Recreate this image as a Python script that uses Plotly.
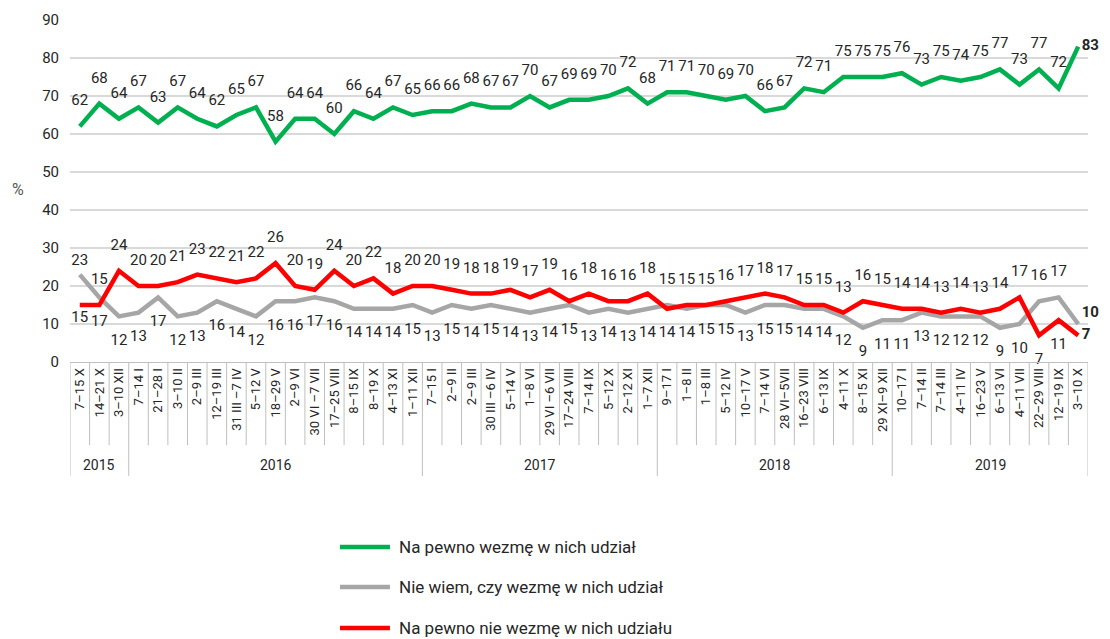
import plotly.graph_objects as go

categories = [
    "7–15 X", "14–21 X", "3–10 XII",
    "7–14 I", "21–28 I", "3–10 II", "2–9 III", "12–19 III", "31 III –7 IV", "5–12 V",
    "18–29 V", "2–9 VI", "30 VI –7 VII", "17–25 VIII", "8–15 IX", "8–19 X", "4–13 XI", "1–11 XII",
    "7–15 I", "2–9 II", "2–9 III", "30 III –6 IV", "5–14 V", "1–8 VI", "29 VI –6 VII",
    "17–24 VIII", "7–14 IX", "5–12 X", "2–12 XI", "1–7 XII",
    "9–17 I", "1–8 II", "1–8 III", "5–12 IV", "10–17 V", "7–14 VI", "28 VI–5VII",
    "16–23 VIII", "6–13 IX", "4–11 X", "8–15 XI", "29 XI–9 XII",
    "10–17 I", "7–14 II", "7–14 III", "4–11 IV", "16–23 V", "6–13 VI", "4–11 VII",
    "22–29 VIII", "12–19 IX", "3–10 X",
]
years = ["2015", "2016", "2017", "2018", "2019"]
year_counts = [3, 15, 12, 12, 10]

green = [62, 68, 64, 67, 63, 67, 64, 62, 65, 67, 58, 64, 64, 60, 66, 64, 67, 65,
         66, 66, 68, 67, 67, 70, 67, 69, 69, 70, 72, 68,
         71, 71, 70, 69, 70, 66, 67, 72, 71, 75, 75, 75,
         76, 73, 75, 74, 75, 77, 73, 77, 72, 83]
gray = [23, 17, 12, 13, 17, 12, 13, 16, 14, 12, 16, 16, 17, 16, 14, 14, 14, 15,
        13, 15, 14, 15, 14, 13, 14, 15, 13, 14, 13, 14,
        15, 14, 15, 15, 13, 15, 15, 14, 14, 12, 9, 11,
        11, 13, 12, 12, 12, 9, 10, 16, 17, 10]
red = [15, 15, 24, 20, 20, 21, 23, 22, 21, 22, 26, 20, 19, 24, 20, 22, 18, 20,
       20, 19, 18, 18, 19, 17, 19, 16, 18, 16, 16, 18,
       14, 15, 15, 16, 17, 18, 17, 15, 15, 13, 16, 15,
       14, 14, 13, 14, 13, 14, 17, 7, 11, 7]

names = ["Na pewno wezmę w nich udział",
         "Nie wiem, czy wezmę w nich udział",
         "Na pewno nie wezmę w nich udziału"]
colors = ["#00b050", "#a6a6a6", "#ff0000"]

n = len(categories)
xs = list(range(n))
last = n - 1


def labels(vals):
    return [f"<b>{v}</b>" if i == last else str(v) for i, v in enumerate(vals)]


pos_green = ["top center"] * n
pos_green[last] = "middle right"

pos_red = ["top center"] * n
pos_gray = ["bottom center"] * n
for i in range(n):
    if red[i] < gray[i] and i != 1:
        pos_red[i] = "bottom center"
        pos_gray[i] = "top center"
pos_red[last] = "middle right"
pos_gray[last] = "top right"

ms_green = [26] * n
ms_green[last] = 4
ms_other = [26] * n
ms_other[0] = 8
ms_other[last] = 4

fig = go.Figure()
series = [(green, pos_green, ms_green), (gray, pos_gray, ms_other), (red, pos_red, ms_other)]
for k, (vals, pos, ms) in enumerate(series):
    fig.add_trace(go.Scatter(
        x=xs, y=vals, name=names[k], mode="lines+markers+text",
        line=dict(color=colors[k], width=4.5),
        marker=dict(size=ms, color="rgba(0,0,0,0)", line=dict(width=0)),
        text=labels(vals), textposition=pos,
        textfont=dict(family="Roboto", size=15, color="#262626"),
        cliponaxis=False, hoverinfo="skip", showlegend=False,
    ))

# separators under the category axis
shapes = []
bounds = [-0.5]
for c in year_counts:
    bounds.append(bounds[-1] + c)
year_bounds = set(bounds)
for i in range(n + 1):
    xb = i - 0.5
    y1 = -0.333 if xb in year_bounds else -0.243
    shapes.append(dict(type="line", xref="x", yref="paper", x0=xb, x1=xb, y0=0, y1=y1,
                       line=dict(color="#bfbfbf", width=1)))

annotations = []
for k, yr in enumerate(years):
    annotations.append(dict(x=(bounds[k] + bounds[k + 1]) / 2, y=-0.300, xref="x", yref="paper",
                            text=yr, showarrow=False, yanchor="middle",
                            font=dict(family="Roboto", size=14, color="#262626")))
annotations.append(dict(x=-0.051, y=0.503, xref="paper", yref="paper", text="%", showarrow=False,
                        xanchor="center", yanchor="middle",
                        font=dict(family="Roboto", size=16, color="#595959")))

# legend (drawn as line samples + text below the plot)
legend_rows = [-0.541, -0.658, -0.778]
for k in range(3):
    shapes.append(dict(type="line", xref="paper", yref="paper", x0=0.2652, x1=0.3143,
                       y0=legend_rows[k], y1=legend_rows[k],
                       line=dict(color=colors[k], width=4.5)))
    annotations.append(dict(x=0.3212, y=legend_rows[k], xref="paper", yref="paper",
                            text=names[k], showarrow=False, xanchor="left", yanchor="middle",
                            font=dict(family="Roboto", size=17, color="#262626")))

fig.update_layout(
    width=1110, height=639,
    margin=dict(l=62, r=30, t=12, b=285),
    plot_bgcolor="white", paper_bgcolor="white",
    font=dict(family="Roboto", color="#262626"),
    xaxis=dict(range=[-0.5, n - 0.5], tickmode="array", tickvals=xs, ticktext=categories,
               tickangle=-90, tickfont=dict(family="Roboto", size=13, color="#262626"),
               showgrid=False, showline=True, linecolor="#bfbfbf", linewidth=1,
               zeroline=False, ticks="", automargin=False),
    yaxis=dict(range=[0, 90], tickvals=list(range(0, 100, 10)), showgrid=True,
               gridcolor="#d9d9d9", gridwidth=1.5, zeroline=False, showline=False,
               ticks="", ticklen=0, ticklabelstandoff=10, automargin=False,
               tickfont=dict(family="Roboto", size=15, color="#262626")),
    showlegend=False,
    shapes=shapes, annotations=annotations,
)

fig.write_html("out.html")
